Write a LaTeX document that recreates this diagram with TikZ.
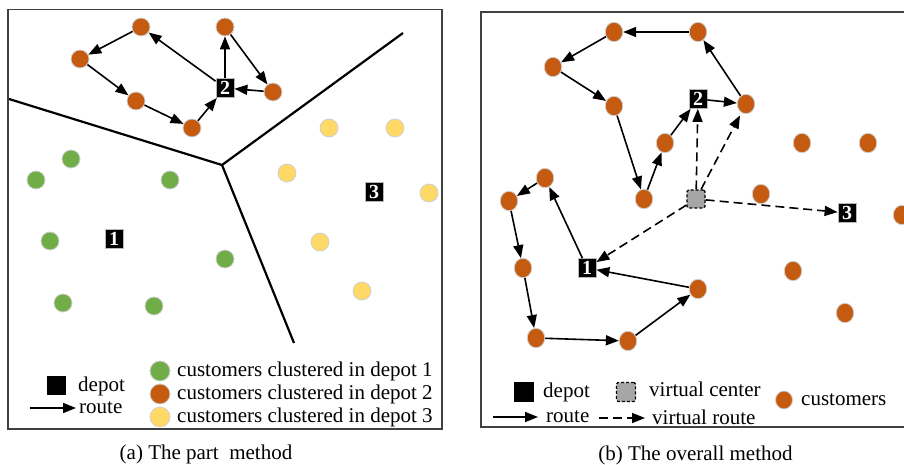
\documentclass[tikz,border=0pt]{standalone}
\usepackage{fontspec}
\setmainfont{Liberation Serif}
\usetikzlibrary{arrows.meta,shapes.geometric}

\definecolor{custorange}{HTML}{C55A11}
\definecolor{custgreen}{HTML}{70AD47}
\definecolor{custyellow}{HTML}{FFD966}
\definecolor{frameclr}{HTML}{404040}
\definecolor{dotrim}{HTML}{D0D0D0}
\definecolor{vcfill}{HTML}{A6A6A6}

\begin{document}
\begin{tikzpicture}[x=1pt,y=-1pt,
  dot/.style={circle,minimum size=18pt,inner sep=0pt,draw=dotrim,line width=0.8pt},
  odot/.style={dot,fill=custorange},
  gdot/.style={dot,fill=custgreen},
  ydot/.style={dot,fill=custyellow},
  edot/.style={ellipse,minimum width=17.5pt,minimum height=19.5pt,inner sep=0pt,draw=dotrim,line width=0.8pt,fill=custorange},
  depot/.style={rectangle,fill=black,draw=gray!55,line width=0.8pt,minimum width=18pt,minimum height=19pt,inner sep=0pt,text=white,font=\bfseries\fontsize{20}{20}\selectfont},
  lsq/.style={rectangle,fill=black,minimum size=19pt,inner sep=0pt},
  vcenter/.style={rectangle,rounded corners=1.5pt,fill=vcfill,draw=black,dash pattern=on 3pt off 2pt,line width=1.3pt,minimum size=18pt,inner sep=0pt},
  route/.style={-{Triangle[length=13pt,width=10pt]},line width=1.6pt},
  vroute/.style={route,dash pattern=on 9pt off 5pt},
  panelframe/.style={draw=frameclr,line width=1.4pt},
  divline/.style={line width=2.2pt},
  lbl/.style={anchor=west,inner sep=0pt,font=\fontsize{21}{21}\selectfont,text height=14pt,text depth=4pt},
  captext/.style={inner sep=0pt,font=\fontsize{21}{21}\selectfont}
]
\useasboundingbox (0,0) rectangle (904,465);
\begin{scope}
\clip (0,0) rectangle (904,465);

% ---------------- (a) part method ----------------
\draw[panelframe] (8,9.5) rectangle (442,429);

% cluster boundaries
\coordinate (vj) at (222,165);
\coordinate (vw) at (9,99);
\coordinate (vn) at (403,33);
\coordinate (vs) at (294,343);
\draw[divline] (vw) -- (vj) -- (vn);
\draw[divline] (vj) -- (vs);

% depots
\node[depot] (L2) at (225,88) {2};
\node[depot] (L1) at (114,239) {1};
\node[depot] (L3) at (374,192) {3};

% customers of depot 2
\node[odot] (La) at (141,27) {};
\node[odot] (Lb) at (225,27) {};
\node[odot] (Lc) at (80,59) {};
\node[odot] (Ld) at (136,101) {};
\node[odot] (Le) at (192,128) {};
\node[odot] (Lf) at (273,92) {};

% customers of depot 1
\node[gdot] (G1) at (71,159) {};
\node[gdot] (G2) at (36,180) {};
\node[gdot] (G3) at (170,180) {};
\node[gdot] (G4) at (50,241) {};
\node[gdot] (G5) at (225,259) {};
\node[gdot] (G6) at (63,303) {};
\node[gdot] (G7) at (154,306) {};

% customers of depot 3
\node[ydot] (Y1) at (329,128) {};
\node[ydot] (Y2) at (395,128) {};
\node[ydot] (Y3) at (287,173) {};
\node[ydot] (Y4) at (429,193) {};
\node[ydot] (Y5) at (320,242) {};
\node[ydot] (Y6) at (362,291) {};

% routes of depot 2
\draw[route] (L2) -- (La);
\draw[route] (La) -- (Lc);
\draw[route] (Lc) -- (Ld);
\draw[route] (Ld) -- (Le);
\draw[route] (Le) -- (L2);
\draw[route] (L2) -- (Lb);
\draw[route] (Lb) -- (Lf);
\draw[route] (Lf) -- (L2);

% legend
\node[lsq] (lgdep) at (56,385) {};
\node[lbl] (lgdept) at (78,386) {depot};
\coordinate (lgra) at (30,408);
\coordinate (lgrb) at (76,408);
\draw[route] (lgra) -- (lgrb);
\node[lbl] (lgroutet) at (79,408) {route};
\node[gdot,minimum size=20pt] (lgg) at (160,371) {};
\node[odot,minimum size=20pt] (lgo) at (160,394) {};
\node[ydot,minimum size=20pt] (lgy) at (160,417) {};
\node[lbl] (lggt) at (177,371) {customers clustered in depot 1};
\node[lbl] (lgot) at (177,394) {customers clustered in depot 2};
\node[lbl] (lgyt) at (177,417) {customers clustered in depot 3};

\node[captext] (capa) at (206,454) {(a) The part\ \ method};

% ---------------- (b) overall method ----------------
\draw[panelframe] (906,12) -- (481,12) -- (481,427) -- (906,427);

% depots and virtual center
\node[depot] (D1) at (587,268) {1};
\node[depot] (D2) at (698,99) {2};
\node[depot] (D3) at (847,213) {3};
\node[vcenter] (VC) at (696,199) {};

% customers
\node[edot] (Ra) at (614,32) {};
\node[edot] (Rb) at (698,32) {};
\node[edot] (Rc) at (553,67) {};
\node[edot] (Rd) at (614,106) {};
\node[edot] (Re) at (746,104) {};
\node[edot] (Rf) at (665,143) {};
\node[edot] (Rg) at (802,143) {};
\node[edot] (Rh) at (868,143) {};
\node[edot] (Ri) at (545,178) {};
\node[edot] (Rj) at (509,201) {};
\node[edot] (Rk) at (644,199) {};
\node[edot] (Rl) at (761,194) {};
\node[edot] (Rm) at (902,215) {};
\node[edot] (Rn) at (523,268) {};
\node[edot] (Ro) at (698,289) {};
\node[edot] (Rp) at (793,271) {};
\node[edot] (Rq) at (845,313) {};
\node[edot] (Rr) at (536,338) {};
\node[edot] (Rs) at (628,341) {};

% virtual routes
\draw[vroute] (VC) -- (D2);
\draw[vroute,shorten >=3pt] (VC) -- (Re);
\draw[vroute] (VC) -- (D3);
\draw[vroute] (VC) -- (D1);

% route of depot 2
\draw[route] (D2) -- (Re);
\draw[route] (Re) -- (Rb);
\draw[route] (Rb) -- (Ra);
\draw[route] (Ra) -- (Rc);
\draw[route] (Rc) -- (Rd);
\draw[route] (Rd) -- (Rk);
\draw[route] (Rk) -- (Rf);
\draw[route] (Rf) -- (D2);

% route of depot 1
\draw[route] (D1) -- (Ri);
\draw[route] (Ri) -- (Rj);
\draw[route] (Rj) -- (Rn);
\draw[route] (Rn) -- (Rr);
\draw[route] (Rr) -- (Rs);
\draw[route] (Rs) -- (Ro);
\draw[route] (Ro) -- (D1);

% legend
\node[lsq,minimum size=20pt] (rgdep) at (524,392) {};
\node[lbl] (rgdept) at (543,392) {depot};
\node[vcenter,minimum size=19pt] (rgvc) at (626,392) {};
\node[lbl] (rgvct) at (649,391) {virtual center};
\node[edot,minimum width=17pt,minimum height=18pt] (rgc) at (784,400) {};
\node[lbl] (rgct) at (801,400) {customers};
\coordinate (rgra) at (493,417);
\coordinate (rgrb) at (538,417);
\draw[route] (rgra) -- (rgrb);
\node[lbl] (rgroutet) at (546,417) {route};
\coordinate (rgva) at (599,418);
\coordinate (rgvb) at (645,418);
\draw[vroute] (rgva) -- (rgvb);
\node[lbl] (rgvroutet) at (652,419) {virtual route};

\node[captext] (capb) at (695.5,455) {(b) The overall method};
\end{scope}
\end{tikzpicture}
\end{document}
